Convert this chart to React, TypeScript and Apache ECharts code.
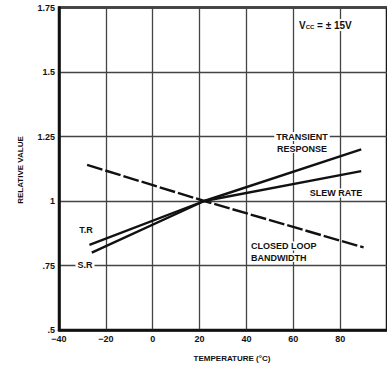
import React, { useEffect, useRef } from "react";
import * as echarts from "echarts";

// Temperature (°C) vs relative value, normalised to 1 at ~22 °C
const trTemps = [-27, 22, 89];
const trValues = [0.83, 1.0, 1.2];
const srTemps = [-26, 22, 89];
const srValues = [0.8, 1.0, 1.116];
const clbTemps = [-28, 22, 90];
const clbValues = [1.14, 1.0, 0.82];

const yTickLabels: Record<string, string> = {
  "0.5": ".5",
  "0.75": ".75",
  "1": "1",
  "1.25": "1.25",
  "1.5": "1.5",
  "1.75": "1.75",
};

const pairs = (xs: number[], ys: number[]) => xs.map((x, i) => [x, ys[i]]);

const FONT = "'Liberation Sans', Arial, sans-serif";
const INK = "#111";

export default function App() {
  const ref = useRef<HTMLDivElement>(null);

  useEffect(() => {
    if (!ref.current) return;
    document.body.style.margin = "0";
    const chart = echarts.init(ref.current, null, { renderer: "svg" });

    const labelStyle = (text: string, x: number, y: number, align = "center", bg = false) => ({
      type: "text",
      x,
      y,
      z: 100,
      style: {
        text,
        fill: INK,
        font: `bold 9px ${FONT}`,
        align,
        verticalAlign: "middle",
        backgroundColor: bg ? "#fff" : undefined,
        padding: bg ? [0, 2] : 0,
      },
    });

    const lineSeries = (name: string, data: number[][], dashed = false) => ({
      name,
      type: "line",
      data,
      symbol: "none",
      lineStyle: {
        color: INK,
        width: 2.4,
        type: dashed ? [16, 3] : "solid",
      },
      z: 5,
    });

    chart.setOption({
      animation: false,
      grid: {
        left: 59,
        top: 7.5,
        width: 335.3,
        height: 322.5,
        show: true,
        borderColor: INK,
        borderWidth: 2.5,
      },
      xAxis: {
        type: "value",
        min: -40,
        max: 100,
        interval: 20,
        axisLine: { show: true, onZero: false, lineStyle: { color: INK, width: 2.5 } },
        axisTick: { show: false },
        splitLine: { show: true, lineStyle: { color: "#444", width: 1.3 } },
        axisLabel: {
          showMaxLabel: false,
          color: INK,
          fontFamily: FONT,
          fontWeight: "bold",
          fontSize: 9,
          margin: 4,
          formatter: (v: number) => (v < 0 ? "\u2212" + Math.abs(v) : String(v)),
        },
      },
      yAxis: {
        type: "value",
        min: 0.5,
        max: 1.75,
        interval: 0.25,
        axisLine: { show: true, onZero: false, lineStyle: { color: INK, width: 2.5 } },
        axisTick: { show: false },
        splitLine: { show: true, lineStyle: { color: "#444", width: 1.3 } },
        axisLabel: {
          color: INK,
          fontFamily: FONT,
          fontWeight: "bold",
          fontSize: 9,
          margin: 4,
          formatter: (v: number) => yTickLabels[String(v)] ?? String(v),
        },
      },
      series: [
        lineSeries("Transient Response", pairs(trTemps, trValues)),
        lineSeries("Slew Rate", pairs(srTemps, srValues)),
        lineSeries("Closed Loop Bandwidth", pairs(clbTemps, clbValues), true),
      ],
      graphic: [
        {
          type: "text",
          x: 20,
          y: 170,
          rotation: Math.PI / 2,
          style: {
            text: "RELATIVE VALUE",
            fill: INK,
            font: `bold 8px ${FONT}`,
            align: "center",
            verticalAlign: "middle",
          },
        },
        {
          type: "text",
          x: 232,
          y: 358,
          style: {
            text: "TEMPERATURE (°C)",
            fill: INK,
            font: `bold 8px ${FONT}`,
            align: "center",
            verticalAlign: "middle",
          },
        },
        {
          type: "text",
          x: 298,
          y: 25,
          z: 100,
          style: {
            text: "{v|V}{s|CC}{v| = ± 15V}",
            fill: INK,
            align: "left",
            verticalAlign: "middle",
            backgroundColor: "#fff",
            padding: [1, 1],
            rich: {
              v: { font: `bold 10px ${FONT}`, fill: INK },
              s: { font: `bold 6px ${FONT}`, fill: INK, verticalAlign: "bottom", padding: [4, 0, 0, 0] },
            },
          },
        },
        labelStyle("T.R", 86, 230),
        labelStyle("S.R", 85, 265, "center", true),
        labelStyle("TRANSIENT", 302, 136.5, "center", true),
        labelStyle("RESPONSE", 302, 148.5, "center", true),
        labelStyle("SLEW RATE", 336, 193, "center", true),
        labelStyle("CLOSED LOOP", 249, 246, "left", true),
        labelStyle("BANDWIDTH", 249, 257.5, "left", true),
      ],
    });

    return () => chart.dispose();
  }, []);

  return <div ref={ref} style={{ width: 387, height: 372 }} />;
}
